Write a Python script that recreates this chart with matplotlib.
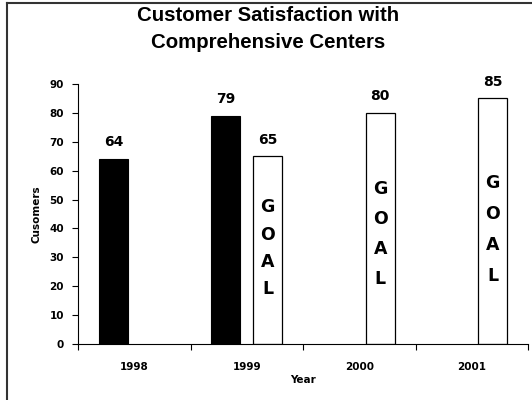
import numpy as np
import matplotlib
matplotlib.use("Agg")
import matplotlib.pyplot as plt
from matplotlib.lines import Line2D

plt.rcParams['font.family'] = ['DejaVu Sans']
plt.rcParams['font.weight'] = 'bold'

# Data
years = ["1998", "1999", "2000", "2001"]
actual = [64, 79, None, None]
goal = [None, 65, 80, 85]

fig = plt.figure(figsize=(5.32, 4.0), dpi=100)
ax = fig.add_axes([0.1466, 0.14, 0.846, 0.65])

x = np.arange(len(years))
width = 0.26
offset = 0.186

for i, v in enumerate(actual):
    if v is None:
        continue
    ax.bar(x[i] - offset, v, width, color="black", edgecolor="black", linewidth=0.8)
    ax.annotate(str(v), (x[i] - offset, v), xytext=(0, 7), textcoords="offset points",
                ha="center", va="bottom", fontsize=10, fontweight="bold")

for i, v in enumerate(goal):
    if v is None:
        continue
    ax.bar(x[i] + offset, v, width, color="white", edgecolor="black", linewidth=0.9)
    ax.annotate(str(v), (x[i] + offset, v), xytext=(0, 7), textcoords="offset points",
                ha="center", va="bottom", fontsize=10, fontweight="bold")
    # vertical GOAL text inside the bar, spread a bit more in taller bars
    ax.text(x[i] + offset, 0.32 * v + 12.4, "\n".join("GOAL"), ha="center", va="center",
            fontsize=12.5, fontweight="bold", linespacing=1.65 + (v - 65) * 0.013)

ax.set_xlim(-0.5, 3.5)
ax.set_ylim(0, 90)
ax.set_yticks(range(0, 91, 10))
ax.tick_params(axis="y", labelsize=7.5, length=4, width=0.8, pad=6)

# category labels centered, ticks at the boundaries
ax.set_xticks(x)
ax.set_xticklabels(years, fontsize=7.5, fontweight="bold")
ax.tick_params(axis="x", which="major", length=0, pad=13)
ax.set_xticks(np.arange(-0.5, 4.0, 1.0), minor=True)
ax.tick_params(axis="x", which="minor", length=4, width=0.8)

for s in ["top", "right"]:
    ax.spines[s].set_visible(False)
for s in ["left", "bottom"]:
    ax.spines[s].set_linewidth(0.8)

ax.set_xlabel("Year", fontsize=7.5, fontweight="bold", labelpad=2)
ax.set_ylabel("Cusomers", fontsize=7.5, fontweight="bold", labelpad=6)

fig.text(0.504, 0.985, "Customer Satisfaction with\nComprehensive Centers", ha="center", va="top",
         fontsize=14.7, fontweight="bold", linespacing=1.5,
         family=["Liberation Sans", "DejaVu Sans"])

# chart frame (top and left edges)
fig.add_artist(Line2D([7 / 532, 7 / 532], [0, 1 - 3 / 400], transform=fig.transFigure,
                      color="#333333", linewidth=1.5))
fig.add_artist(Line2D([7 / 532, 1], [1 - 3 / 400, 1 - 3 / 400], transform=fig.transFigure,
                      color="#333333", linewidth=1.5))

fig.savefig("out.png", dpi=100)
